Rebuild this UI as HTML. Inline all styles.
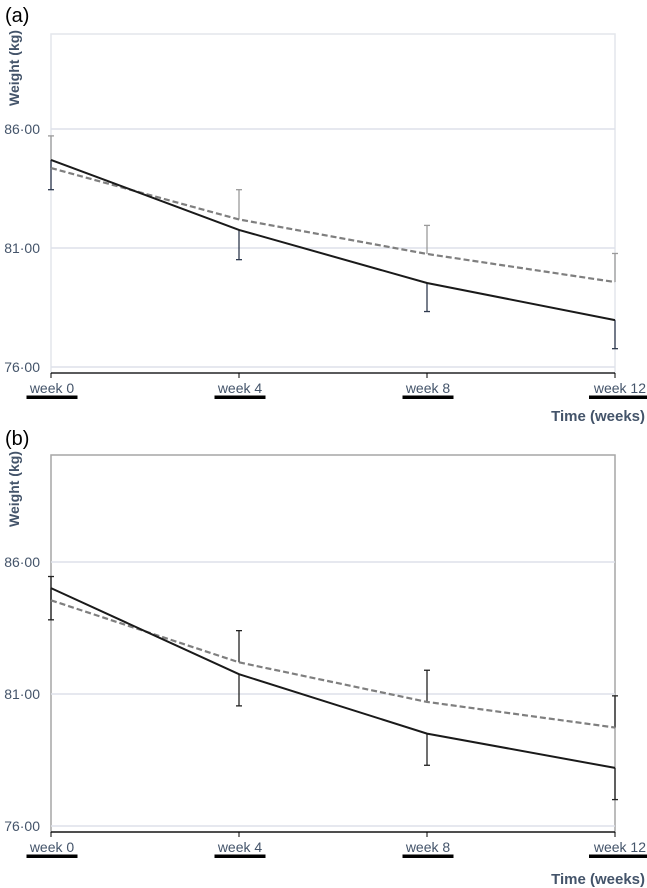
<!DOCTYPE html>
<html><head><meta charset="utf-8"><style>
body{margin:0;background:#fff;width:647px;height:888px;overflow:hidden;font-family:"Liberation Sans",sans-serif}
svg{display:block}
</style></head><body>
<svg id="chart" width="647" height="888"></svg>
<script>
const categories=["week 0","week 4","week 8","week 12"];
const yTicks=[76,81,86];
const yTickLabels=["76·00","81·00","86·00"];
const aSolid=[84.7,81.76,79.53,77.97];
const aSolidErr=[1.25,1.25,1.2,1.2];
const aDashed=[84.36,82.2,80.75,79.57];
const aDashedErr=[1.35,1.25,1.2,1.2];
const bSolid=[85.01,81.75,79.5,78.2];
const bSolidErr=[1.2,1.2,1.2,1.2];
const bDashed=[84.55,82.2,80.7,79.73];
const bDashedErr=[0.9,1.2,1.2,1.2];
const NS="http://www.w3.org/2000/svg";
const svg=document.getElementById('chart');
function mk(t,a,p){const e=document.createElementNS(NS,t);for(const k in a)e.setAttribute(k,a[k]);(p||svg).appendChild(e);return e;}
function panel(cfg){
 const g=mk('g',{});
 
 
 const L=51,R=615;
 const x=i=>L+(R-L)*i/3;
 const y=v=>cfg.y86+(86-v)*cfg.ppu;
 const t=mk('text',{x:5,y:cfg.labelY,'font-size':20,fill:'#000'},g);t.textContent=cfg.label;
 
 const fr=mk('rect',{x:L,y:cfg.top,width:R-L,height:cfg.axisY-cfg.top,fill:'none',stroke:cfg.frame,'stroke-width':1.5},g);
 
 yTicks.forEach((v,i)=>{
  const gl=mk('line',{x1:L,x2:R,y1:y(v),y2:y(v),stroke:'#dde1ea','stroke-width':1.5},g);
  
  const tl=mk('text',{x:L-11,y:y(v)+5,'font-size':14,fill:'#44546a','text-anchor':'end'},g);tl.textContent=yTickLabels[i];
  
 });
 const yt=mk('text',{transform:`translate(19,${cfg.titleY}) rotate(-90)`,'font-size':14,'font-weight':'bold',fill:'#44546a','text-anchor':'middle'},g);yt.textContent='Weight (kg)';
 
 const ax=mk('line',{x1:L,x2:R,y1:cfg.axisY,y2:cfg.axisY,stroke:'#000','stroke-width':1.2},g);
 
 categories.forEach((c,i)=>{
  mk('line',{x1:x(i),x2:x(i),y1:cfg.axisY,y2:cfg.axisY+5,stroke:'#000'},g);
  const cx=i===3?R+31:x(i)+1;
  const lt=mk('text',{x:cx,y:cfg.axisY+20,'font-size':14,fill:'#44546a','text-anchor':i===3?'end':'middle'},g);lt.textContent=c;
  
  const w=i===3?58:51;const ux=i===3?R+32-w:x(i)+1-w/2;
  mk('rect',{x:ux,y:cfg.axisY+22.5,width:w,height:3.5,fill:'#000'},g);
 });
 const xt=mk('text',{x:645,y:cfg.axisY+cfg.timeOff,'font-size':15,'font-weight':'bold',fill:'#44546a','text-anchor':'end'},g);xt.textContent='Time (weeks)';
 
 function errs(vals,er,dir,col,name){
  vals.forEach((v,i)=>{
   const y1=y(v),y2=y(v+dir*er[i]);
   const e=mk('g',{},g);
   
   mk('line',{x1:x(i),x2:x(i),y1:y1,y2:y2,stroke:col,'stroke-width':1.3},e);
   mk('line',{x1:x(i)-3,x2:x(i)+3,y1:y2,y2:y2,stroke:col,'stroke-width':1.3},e);
  });
 }
 errs(cfg.dashed,cfg.dashedErr,1,cfg.dashedErrCol,'dashed-error-bar');
 errs(cfg.solid,cfg.solidErr,-1,cfg.solidErrCol,'solid-error-bar');
 const pts=a=>a.map((v,i)=>x(i)+','+y(v)).join(' ');
 const d=mk('polyline',{points:pts(cfg.dashed),fill:'none',stroke:'#7f7f7f','stroke-width':2.2,'stroke-dasharray':'6,3'},g);
 
 const s=mk('polyline',{points:pts(cfg.solid),fill:'none',stroke:'#1a1a1a','stroke-width':2},g);
 
}
panel({id:'panel-a',label:'(a)',labelY:22,top:34,titleY:68,axisY:373,timeOff:48,y86:129,ppu:23.8,frame:'#e3e6ec',solid:aSolid,solidErr:aSolidErr,dashed:aDashed,dashedErr:aDashedErr,solidErrCol:'#2f3a4f',dashedErrCol:'#9a9a9a'});
panel({id:'panel-b',label:'(b)',labelY:445,top:455,titleY:489,axisY:832,timeOff:52,y86:562,ppu:26.4,frame:'#a6a6a6',solid:bSolid,solidErr:bSolidErr,dashed:bDashed,dashedErr:bDashedErr,solidErrCol:'#222',dashedErrCol:'#222'});
</script>
</body></html>
